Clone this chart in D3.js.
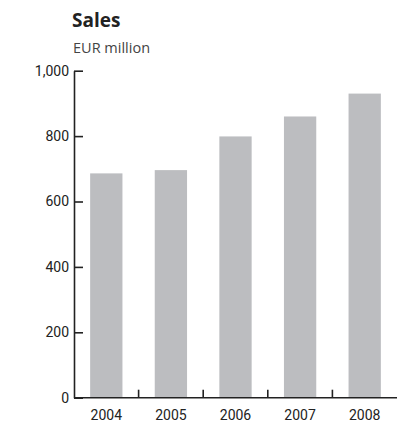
<!doctype html>
<html lang="en">
<head>
  <meta charset="UTF-8">
  <script src="https://cdn.jsdelivr.net/npm/d3@7"></script>
  <title>Sales</title>
  <style>
    body{ margin:0; background:#fff; }
    .chart svg text{ font-family: Roboto, sans-serif; fill:#222; }
    .chart .axis text{ font-size:14px; }
    .chart .axis path, .chart .axis line{ stroke:#222; stroke-width:1.6; }
    .chart .title{ font-family: "Open Sans", sans-serif; font-size:19px; font-weight:bold; }
    .chart .sub{ font-family: "Open Sans", sans-serif; font-size:14.5px; fill:#444; }
  </style>
</head>
<body>
  <div class="chart"></div>
  <script>
    // sales per year, EUR million
    const years = ['2004', '2005', '2006', '2007', '2008'];
    const sales = [686, 696, 799, 860, 930];
    const yTicks = [0, 200, 400, 600, 800, 1000];

    const bxSize = {w: 397, h: 424};
    const margin = {top: 70.7, right: 0, bottom: 26.3, left: 74};
    const [width, height] = [bxSize.w - margin.left - margin.right, bxSize.h - margin.top - margin.bottom];

    const root = d3.select('.chart').append('svg')
      .attr('width', bxSize.w).attr('height', bxSize.h);
    const svg = root.append('g').attr('transform', `translate(${margin.left} ${margin.top})`);

    root.append('text').attr('class', 'title').attr('x', 72).attr('y', 27).text('Sales');
    root.append('text').attr('class', 'sub').attr('x', 73).attr('y', 53).text('EUR million');

    const yScale = d3.scaleLinear().domain([0, 1000]).range([height, 0]);
    const xScale = d3.scaleBand().domain(years).range([0, width]);
    const bw = xScale.bandwidth();

    svg.selectAll('rect.bar').data(years).enter().append('rect')
      .attr('class', 'bar')
      .attr('x', d => xScale(d) + bw * 0.25)
      .attr('width', bw * 0.5)
      .attr('y', (d, i) => yScale(sales[i]))
      .attr('height', (d, i) => height - yScale(sales[i]))
      .attr('fill', '#bcbdc0');

    const yAxis = d3.axisLeft(yScale).tickValues(yTicks)
      .tickSizeInner(-9).tickSizeOuter(0).tickPadding(5)
      .tickFormat(d3.format(','));
    svg.append('g').attr('class', 'axis').call(yAxis);

    const xAxis = d3.axisBottom(xScale).tickSize(0).tickPadding(12);
    const xg = svg.append('g').attr('class', 'axis')
      .attr('transform', `translate(0, ${height})`).call(xAxis);
    xg.select('.domain').remove();

    // separators between the years
    svg.append('g').attr('class', 'axis').selectAll('line').data(years.slice(1)).enter().append('line')
      .attr('x1', d => xScale(d)).attr('x2', d => xScale(d))
      .attr('y1', height).attr('y2', height - 8);
    svg.append('g').attr('class', 'axis').append('line')
      .attr('x1', 0).attr('x2', width).attr('y1', height).attr('y2', height);
  </script>
</body>
</html>
